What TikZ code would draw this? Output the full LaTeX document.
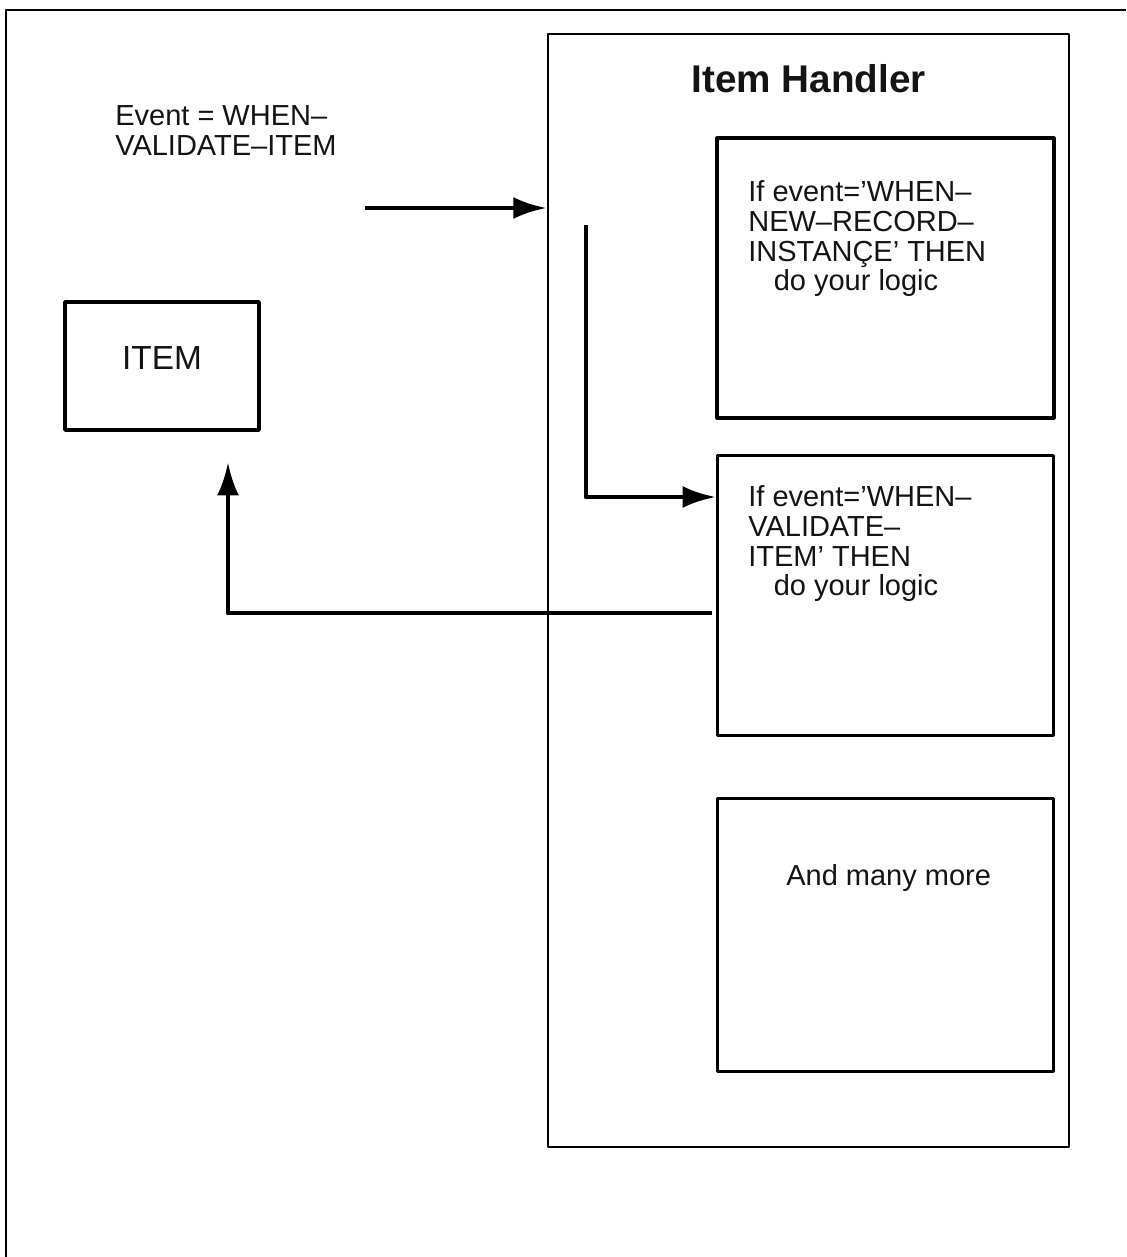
\documentclass[tikz,border=0pt]{standalone}
\usepackage{fontspec}
\setmainfont{Liberation Sans}
\usepackage{xcolor}
\usepackage{tikz}
\usetikzlibrary{arrows.meta,positioning}
\definecolor{ihedge}{RGB}{0,0,0}
\definecolor{ihink}{RGB}{20,20,20}
\tikzset{
  ihbox/.style={
    draw=ihedge, line width=1.8pt, inner sep=0pt
  },
  handlerbox/.style={ihbox, line width=1.5pt},
  condbox/.style={ihbox, minimum width=6.72cm, minimum height=5.6cm},
  itembox/.style={
    ihbox, line width=2pt, font=\fontsize{19}{20}\selectfont,
    text depth=9pt, text=ihink
  },
  txt/.style={
    inner sep=0pt, align=left, text=ihink,
    font=\fontsize{16.5}{17}\selectfont
  },
  ttl/.style={inner sep=0pt, text=ihink, font=\fontsize{22}{24}\selectfont\bfseries},
  frame/.style={draw=ihedge, line width=1.2pt},
  arr/.style={-{Latex[length=19pt,width=12.5pt]}, draw=ihedge, line width=2.8pt},
  every picture/.append style={line join=round}
}

\begin{document}
\begin{tikzpicture}[x=0.02cm, y=-0.02cm, node distance=6mm and 6mm]
  \useasboundingbox (0,0) rectangle (1126,1257);
  \draw[frame] (6,1257) -- (6,10) -- (1126,10);

  \node[handlerbox, minimum width=10.42cm, minimum height=22.26cm] (handler) at (808.5,590.5) {};
  \node[ttl, below=0.62cm of handler.north] (htitle) {Item Handler};
  \node[condbox, minimum width=6.74cm] (cond1) at (885.5,278) {};
  \node[condbox, below=0.68cm of cond1] (cond2) {};
  \node[condbox, below=1.2cm of cond2, minimum height=5.46cm] (cond3) {};
  \node[itembox, minimum width=3.88cm, minimum height=2.56cm] (item) at (162,366) {ITEM};

  \node[txt, anchor=north west] (evlabel) at (115,105) {Event = WHEN–\\VALIDATE–ITEM};
  \node[txt, anchor=north west] (c1txt) at (748,180)
    {If event=’WHEN–\\NEW–RECORD–\\INSTANÇE’ THEN\\\hspace*{14.5pt}do your logic};
  \node[txt, anchor=north west] (c2txt) at (748,485)
    {If event=’WHEN–\\VALIDATE–\\ITEM’ THEN\\\hspace*{14.5pt}do your logic};
  \node[txt, anchor=base west] (c3txt) at (786,885) {And many more};

  \coordinate (evt) at (365,208);
  \coordinate (hook) at (586,225);
  \coordinate (turn) at (586,497);
  \coordinate (back) at (712,613);
  \coordinate (itemin) at (228,462);

  \draw[arr] (evt) -- (evt -| handler.west);
  \draw[arr] (hook) -- (turn) -- (turn -| cond2.west);
  \draw[arr] (back) -| (itemin);
\end{tikzpicture}
\end{document}
